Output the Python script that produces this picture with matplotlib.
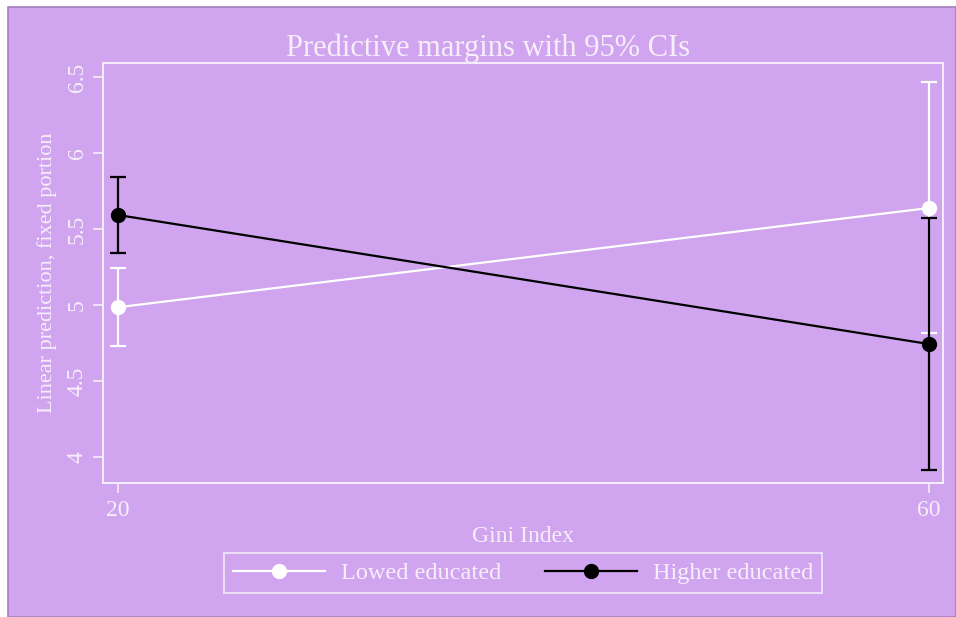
import matplotlib
matplotlib.use("Agg")
import matplotlib.pyplot as plt
from matplotlib.patches import Rectangle
from matplotlib.lines import Line2D

# margins from the model
gini = [20, 60]
low_mean = [4.985, 5.638]
low_lo = [4.73, 4.815]
low_hi = [5.243, 6.465]
high_mean = [5.592, 4.743]
high_lo = [5.342, 3.914]
high_hi = [5.842, 5.572]
yticks = [4, 4.5, 5, 5.5, 6, 6.5]
xticks = [20, 60]

bg = '#d0a4ee'
txt = '#f6effb'

plt.rcParams['font.family'] = ['Liberation Serif', 'DejaVu Serif']

fig = plt.figure(figsize=(9.56, 6.17), dpi=100)
fig.patch.set_facecolor('white')
fig.patches.append(Rectangle((8 / 956, 0), 1 - 8 / 956, 1 - 7 / 617,
                             transform=fig.transFigure, facecolor=bg,
                             edgecolor='#a57fc0', linewidth=1.2, zorder=-10))

ax = fig.add_axes([0.1077, 0.2172, 0.8787, 0.6807])
ax.set_facecolor(bg)
ax.patch.set_alpha(0)

# lower educated (white)
ax.errorbar(gini, low_mean,
            yerr=[[m - l for m, l in zip(low_mean, low_lo)],
                  [h - m for m, h in zip(low_mean, low_hi)]],
            color='white', ecolor='white', elinewidth=1.6, capsize=6,
            capthick=1.6, lw=1.6, marker='o', ms=10, zorder=3)
# higher educated (black)
ax.errorbar(gini, high_mean,
            yerr=[[m - l for m, l in zip(high_mean, high_lo)],
                  [h - m for m, h in zip(high_mean, high_hi)]],
            color='black', ecolor='black', elinewidth=1.6, capsize=6,
            capthick=1.6, lw=1.6, marker='o', ms=10, zorder=4)

ax.set_xlim(19.26, 60.69)
ax.set_ylim(3.829, 6.592)
ax.set_xticks(xticks)
ax.set_yticks(yticks)
ax.set_yticklabels(['4', '4.5', '5', '5.5', '6', '6.5'], rotation=90, va='center')
ax.tick_params(colors=txt, labelcolor=txt, labelsize=17, length=7, width=1.2,
               direction='out')
ax.tick_params(axis='y', pad=4)
ax.tick_params(axis='x', pad=5)
for s in ax.spines.values():
    s.set_color(txt)
    s.set_linewidth(1.4)

ax.set_xlabel('Gini Index', color=txt, fontsize=17, labelpad=4)
ax.set_ylabel('Linear prediction, fixed portion', color=txt, fontsize=16, labelpad=7)
ax.set_title('Predictive margins with 95% CIs', color=txt, fontsize=22, pad=4,
             x=0.458)

handles = [Line2D([], [], color='white', lw=1.6, marker='o', ms=10),
           Line2D([], [], color='black', lw=1.6, marker='o', ms=10)]
leg = fig.legend(handles, ['Lowed educated', 'Higher educated'],
                 loc='center', bbox_to_anchor=(523 / 956, 1 - 573 / 617),
                 ncol=2, frameon=True, fancybox=False, fontsize=17.5,
                 handlelength=3.8, handletextpad=0.65, columnspacing=1.8,
                 borderpad=0.35, borderaxespad=0)
leg.get_frame().set_facecolor(bg)
leg.get_frame().set_edgecolor(txt)
leg.get_frame().set_linewidth(1.4)
for t in leg.get_texts():
    t.set_color(txt)

fig.savefig('out.png', dpi=100, facecolor=fig.get_facecolor())
